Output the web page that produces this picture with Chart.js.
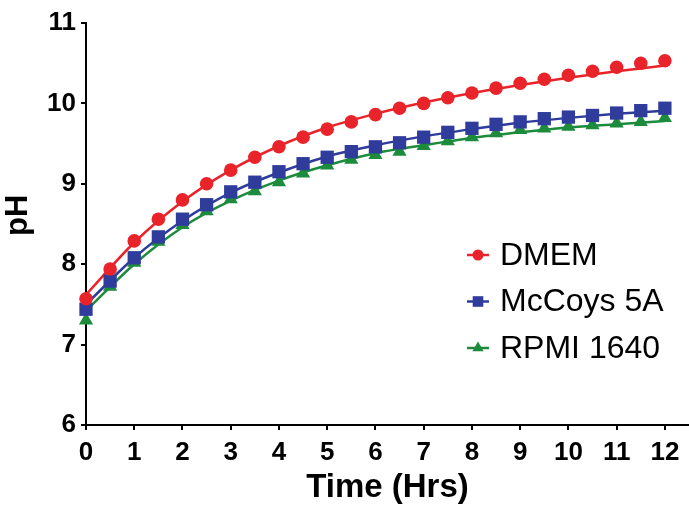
<!DOCTYPE html>
<html>
<head>
<meta charset="utf-8">
<script src="https://cdn.jsdelivr.net/npm/chart.js@4/dist/chart.umd.min.js"></script>
<style>
  html, body { margin: 0; padding: 0; background: #fff; }
  #wrap { width: 689px; height: 508px; position: relative; }
</style>
</head>
<body>
<div id="wrap"><canvas id="c" width="689" height="508"></canvas></div>
<script>
// Sampling times (hours) for the measured points
const hours = [0, 0.5, 1, 1.5, 2, 2.5, 3, 3.5, 4, 4.5, 5, 5.5, 6, 6.5, 7, 7.5, 8, 8.5, 9, 9.5, 10, 10.5, 11, 11.5, 12];

// Measured pH per medium
const dmem   = [7.57, 7.94, 8.29, 8.56, 8.80, 9.00, 9.17, 9.33, 9.46, 9.58, 9.68, 9.77, 9.86, 9.94, 10.00, 10.07, 10.13, 10.19, 10.25, 10.30, 10.35, 10.40, 10.45, 10.50, 10.53];
const mccoys = [7.44, 7.79, 8.08, 8.34, 8.56, 8.74, 8.90, 9.02, 9.15, 9.25, 9.33, 9.40, 9.46, 9.51, 9.58, 9.64, 9.69, 9.74, 9.77, 9.81, 9.83, 9.85, 9.88, 9.91, 9.94];
const rpmi   = [7.30, 7.72, 8.02, 8.28, 8.49, 8.66, 8.81, 8.91, 9.02, 9.13, 9.23, 9.30, 9.36, 9.40, 9.47, 9.53, 9.58, 9.63, 9.67, 9.69, 9.71, 9.73, 9.75, 9.77, 9.82];

// Fitted curves, sampled hourly
const fitHours  = [0, 1, 2, 3, 4, 5, 6, 7, 8, 9, 10, 11, 12];
const dmemFit   = [7.62, 8.27, 8.78, 9.17, 9.47, 9.70, 9.87, 10.01, 10.13, 10.23, 10.32, 10.40, 10.47];
const mccoysFit = [7.50, 8.08, 8.54, 8.89, 9.14, 9.34, 9.48, 9.59, 9.68, 9.76, 9.82, 9.87, 9.91];
const rpmiFit   = [7.42, 8.00, 8.46, 8.79, 9.04, 9.23, 9.38, 9.48, 9.57, 9.64, 9.70, 9.74, 9.78];

const xTicks = [0, 1, 2, 3, 4, 5, 6, 7, 8, 9, 10, 11, 12];
const yTicks = [6, 7, 8, 9, 10, 11];

const RED = '#e8232a', BLUE = '#2f3c9c', GREEN = '#1c8b3c';
const FONT = '"Liberation Sans", Arial, Helvetica, sans-serif';

const pts = (xs, ys) => xs.map((x, i) => ({ x, y: ys[i] }));

const series = [
  { label: 'DMEM',       color: RED,   style: 'circle',   radius: 6.8, legendRadius: 5.5, values: dmem,   fit: dmemFit },
  { label: 'McCoys 5A',  color: BLUE,  style: 'rect',     radius: 9.4, legendRadius: 7.5, values: mccoys, fit: mccoysFit },
  { label: 'RPMI 1640',  color: GREEN, style: 'triangle', radius: 8.2, legendRadius: 6.5, values: rpmi,   fit: rpmiFit }
];

const datasets = [];
series.forEach(s => {
  datasets.push({
    label: s.label + ' fit',
    data: pts(fitHours, s.fit),
    showLine: true,
    borderColor: s.color,
    borderWidth: 2.5,
    pointRadius: 0,
    cubicInterpolationMode: 'monotone',
    fill: false,
    order: 2,
    isFit: true
  });
  datasets.push({
    label: s.label,
    data: pts(hours, s.values),
    showLine: false,
    pointStyle: s.style,
    pointRadius: s.radius,
    pointBackgroundColor: s.color,
    pointBorderColor: s.color,
    pointBorderWidth: 0,
    clip: false,
    order: 1,
    legendRadius: s.legendRadius
  });
});

// Legend drawn inside the plot area: short line with the marker on it
const insideLegend = {
  id: 'insideLegend',
  afterDraw(chart) {
    const { ctx, chartArea } = chart;
    const entries = chart.data.datasets.filter(d => !d.isFit);
    const x0 = chartArea.left + 392;
    const y0 = chartArea.top + 232;
    const gap = 46.5;
    ctx.save();
    ctx.font = '32px ' + FONT;
    ctx.textBaseline = 'middle';
    ctx.textAlign = 'left';
    entries.forEach((d, i) => {
      const y = y0 + i * gap;
      ctx.strokeStyle = d.pointBackgroundColor;
      ctx.lineWidth = 2.5;
      ctx.beginPath();
      ctx.moveTo(x0 - 11, y);
      ctx.lineTo(x0 + 11, y);
      ctx.stroke();
      ctx.fillStyle = d.pointBackgroundColor;
      ctx.strokeStyle = d.pointBackgroundColor;
      Chart.helpers.drawPoint(ctx, { pointStyle: d.pointStyle, radius: d.legendRadius, rotation: 0, borderWidth: 0 }, x0, y);
      ctx.fillStyle = '#000';
      ctx.fillText(d.label, x0 + 22, y + 1);
    });
    ctx.restore();
  }
};

new Chart(document.getElementById('c'), {
  type: 'scatter',
  data: { datasets },
  plugins: [insideLegend],
  options: {
    responsive: false,
    animation: false,
    events: [],
    layout: { autoPadding: false, padding: { top: 23, right: 0, left: 0, bottom: 0 } },
    plugins: { legend: { display: false }, tooltip: { enabled: false } },
    scales: {
      x: {
        type: 'linear',
        min: 0,
        max: 12.5,
        afterBuildTicks: scale => { scale.ticks = xTicks.map(v => ({ value: v })); },
        afterFit: scale => { scale.height = 83; scale.paddingLeft = 0; scale.paddingRight = 0; },
        grid: { drawOnChartArea: false, drawTicks: true, tickLength: 5, color: '#000', lineWidth: 2 },
        border: { color: '#000', width: 2 },
        ticks: { color: '#000', padding: 7, maxRotation: 0, font: { family: FONT, size: 26, weight: 'bold' } },
        title: { display: true, text: 'Time (Hrs)', color: '#000', padding: { top: 0, bottom: 0 }, font: { family: FONT, size: 33, weight: 'bold' } }
      },
      y: {
        type: 'linear',
        min: 6,
        max: 11,
        afterBuildTicks: scale => { scale.ticks = yTicks.map(v => ({ value: v })); },
        afterFit: scale => { scale.width = 86; scale.paddingTop = 0; scale.paddingBottom = 0; },
        grid: { drawOnChartArea: false, drawTicks: true, tickLength: 5, color: '#000', lineWidth: 2 },
        border: { color: '#000', width: 2 },
        ticks: { color: '#000', padding: 5, font: { family: FONT, size: 26, weight: 'bold' } },
        title: { display: true, text: '  pH', color: '#000', padding: { top: 0, bottom: 0 }, font: { family: FONT, size: 31, weight: 'bold' } }
      }
    }
  }
});
</script>
</body>
</html>
